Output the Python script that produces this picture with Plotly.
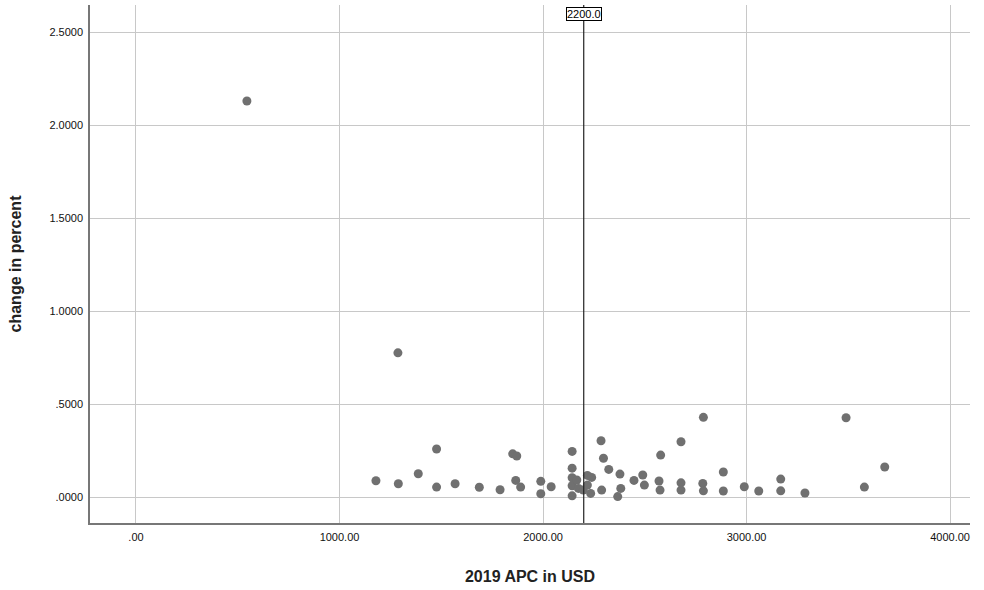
import plotly.graph_objects as go

apc = [545, 1287, 1179, 1289, 1387, 1477, 1477, 1568, 1687, 1789, 1851, 1871, 1866, 1890,
       1989, 1989, 2040, 2143, 2143, 2143, 2143, 2143, 2166, 2174, 2198, 2218, 2239, 2218,
       2234, 2285, 2297, 2323, 2288, 2378, 2382, 2367, 2447, 2490, 2498, 2578, 2570, 2575,
       2678, 2678, 2678, 2788, 2785, 2788, 2886, 2886, 2989, 3060, 3168, 3168, 3287, 3489,
       3579, 3679]
change = [2.131, 0.777, 0.089, 0.073, 0.127, 0.260, 0.055, 0.073, 0.054, 0.041, 0.234, 0.222,
          0.091, 0.055, 0.086, 0.019, 0.057, 0.247, 0.157, 0.105, 0.062, 0.008, 0.093, 0.048,
          0.039, 0.118, 0.107, 0.066, 0.021, 0.304, 0.210, 0.150, 0.039, 0.125, 0.048, 0.004,
          0.091, 0.120, 0.066, 0.227, 0.088, 0.039, 0.299, 0.078, 0.039, 0.430, 0.075, 0.035,
          0.136, 0.034, 0.057, 0.034, 0.098, 0.035, 0.023, 0.428, 0.055, 0.163]

x_ticks = [0, 1000, 2000, 3000, 4000]
x_labels = [".00", "1000.00", "2000.00", "3000.00", "4000.00"]
y_ticks = [0, 0.5, 1.0, 1.5, 2.0, 2.5]
y_labels = [".0000", ".5000", "1.0000", "1.5000", "2.0000", "2.5000"]
ref_x = 2200
ref_label = "2200.0"

fig = go.Figure()
fig.add_trace(go.Scatter(x=apc, y=change, mode="markers",
                         marker=dict(color="#707070", size=9, line=dict(width=0)),
                         showlegend=False))
fig.add_vline(x=ref_x, line=dict(color="#222222", width=1.2))
fig.add_annotation(x=ref_x, y=0.997, xref="x", yref="paper", text=ref_label,
                   showarrow=False, yanchor="top", font=dict(size=11, color="#000000"),
                   bordercolor="#000000", borderwidth=1, borderpad=0, bgcolor="white")

fig.update_layout(
    width=984, height=590,
    margin=dict(l=90, r=14, t=5, b=67),
    plot_bgcolor="white", paper_bgcolor="white",
    font=dict(family="Liberation Sans, Arial, sans-serif", color="#222222"),
    xaxis=dict(range=[-226, 4098], tickvals=x_ticks, ticktext=x_labels,
               showgrid=True, gridcolor="#c8c8c8", gridwidth=1, zeroline=False,
               showline=True, linecolor="#777777", linewidth=1.5, ticks="",
               ticklabelstandoff=3,
               tickfont=dict(size=11, color="#111111"),
               title=dict(text="<b>2019 APC in USD</b>", font=dict(size=16), standoff=29)),
    yaxis=dict(range=[-0.138, 2.647], tickvals=y_ticks, ticktext=y_labels,
               showgrid=True, gridcolor="#c8c8c8", gridwidth=1, zeroline=False,
               showline=True, linecolor="#777777", linewidth=1.5, ticks="",
               ticklabelstandoff=3,
               tickfont=dict(size=11, color="#111111"),
               title=dict(text="<b>change in percent</b>", font=dict(size=16), standoff=24)),
)
fig.write_html("out.html", config={"displayModeBar": False},
               post_script="document.body.style.margin='0';")
